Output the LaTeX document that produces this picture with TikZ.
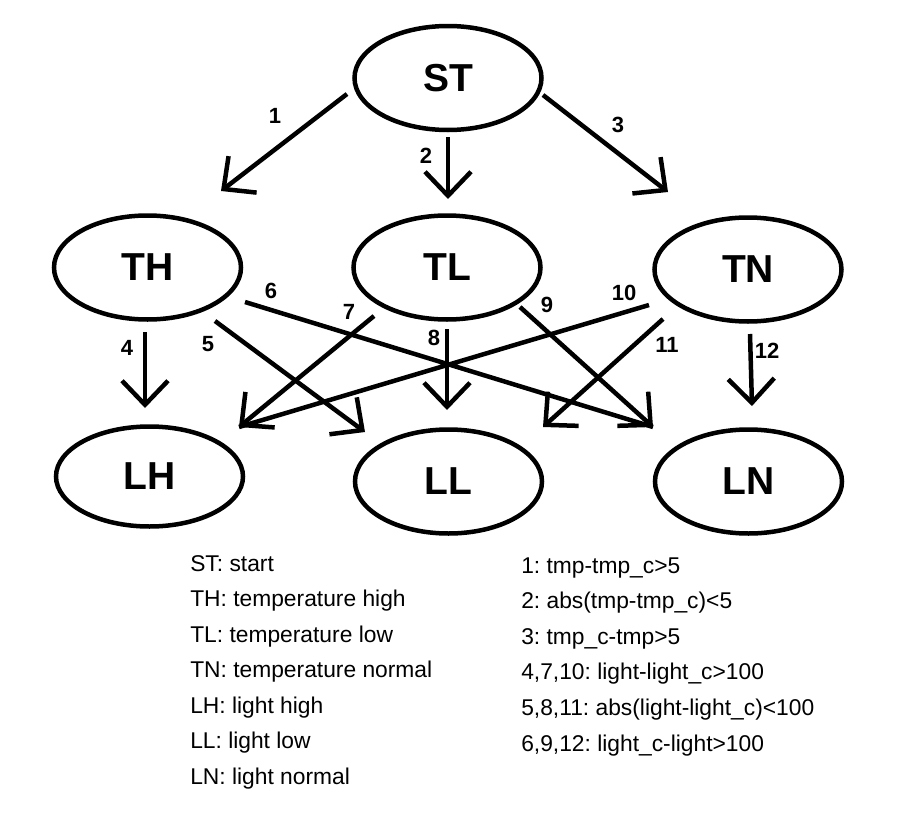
\documentclass[tikz,border=0pt]{standalone}
\usepackage{fontspec}
\setmainfont{Liberation Sans}
\usetikzlibrary{arrows.meta,shapes.geometric}
\begin{document}
\begin{tikzpicture}[x=1pt,y=-1pt,line width=4.5pt,>={Straight Barb[length=24pt,width=46pt]},
	state/.style={draw,ellipse,inner sep=0pt,minimum width=187pt,minimum height=104pt,font=\fontsize{39}{40}\selectfont\bfseries},
	num/.style={inner sep=0pt,font=\fontsize{22}{24}\selectfont\bfseries},
	key/.style={anchor=base west,inner sep=0pt,font=\fontsize{22.8}{26}\selectfont\frenchspacing}]
	\useasboundingbox (0,0) rectangle (916,827);
	\node[state] (ST) at (448,78) {ST};
	\node[state] (TH) at (147.5,267.5) {TH};
	\node[state] (TL) at (447,267.5) {TL};
	\node[state] (TN) at (748,269.5) {TN};
	\node[state,minimum height=100pt] (LH) at (149.5,476.5) {LH};
	\node[state] (LL) at (448.5,481.5) {LL};
	\node[state] (LN) at (748.5,481.5) {LN};
	\path
	(347,94) coordinate (o1) (221,191) coordinate (i1)
	(448,137) coordinate (o2) (448,199) coordinate (i2)
	(543,95) coordinate (o3) (668,192) coordinate (i3)
	(145,332) coordinate (o4) (145,408) coordinate (i4)
	(215,321) coordinate (o5) (365,432) coordinate (i5)
	(245,302) coordinate (o6) (653,427) coordinate (i6)
	(374,316) coordinate (o7) (239,427) coordinate (i7)
	(447,329) coordinate (o8) (447,410) coordinate (i8)
	(520,307) coordinate (o9) (653,427) coordinate (i9)
	(649,305) coordinate (o10) (239,427) coordinate (i10)
	(663,319) coordinate (o11) (543,427) coordinate (i11)
	(750,334) coordinate (o12) (752,406) coordinate (i12)
	;
	\foreach \k in {1,2,3,4,5,7,8,9,11,12}\draw[->] (o\k)--(i\k);
	\draw (o6)--(i6) (o10)--(i10);
	\foreach \k/\x/\y in {1/275/116,2/426/156,3/618/125,4/127/348,5/208/344,6/271/291,7/349/312,8/434/338,9/547/305,10/624/293,11/667/345,12/767/351}
	\node[num] (n\k) at (\x,\y) {\k};
	% legend
	\foreach \t [count=\i] in {ST: start,TH: temperature high,TL: temperature low,TN: temperature normal,LH: light high,LL: light low,LN: light normal}
	\node[key] (key\i) at (188,571+35.5*\i-35.5) {\t};
	\foreach \t [count=\i] in {{1: tmp-tmp\_c>5},{2: abs(tmp-tmp\_c)<5},{3: tmp\_c-tmp>5},{4,7,10: light-light\_c>100},{5,8,11: abs(light-light\_c)<100},{6,9,12: light\_c-light>100}}
	\node[key] (cond\i) at (519,573+35.6*\i-35.6) {\t};
\end{tikzpicture}
\end{document}
